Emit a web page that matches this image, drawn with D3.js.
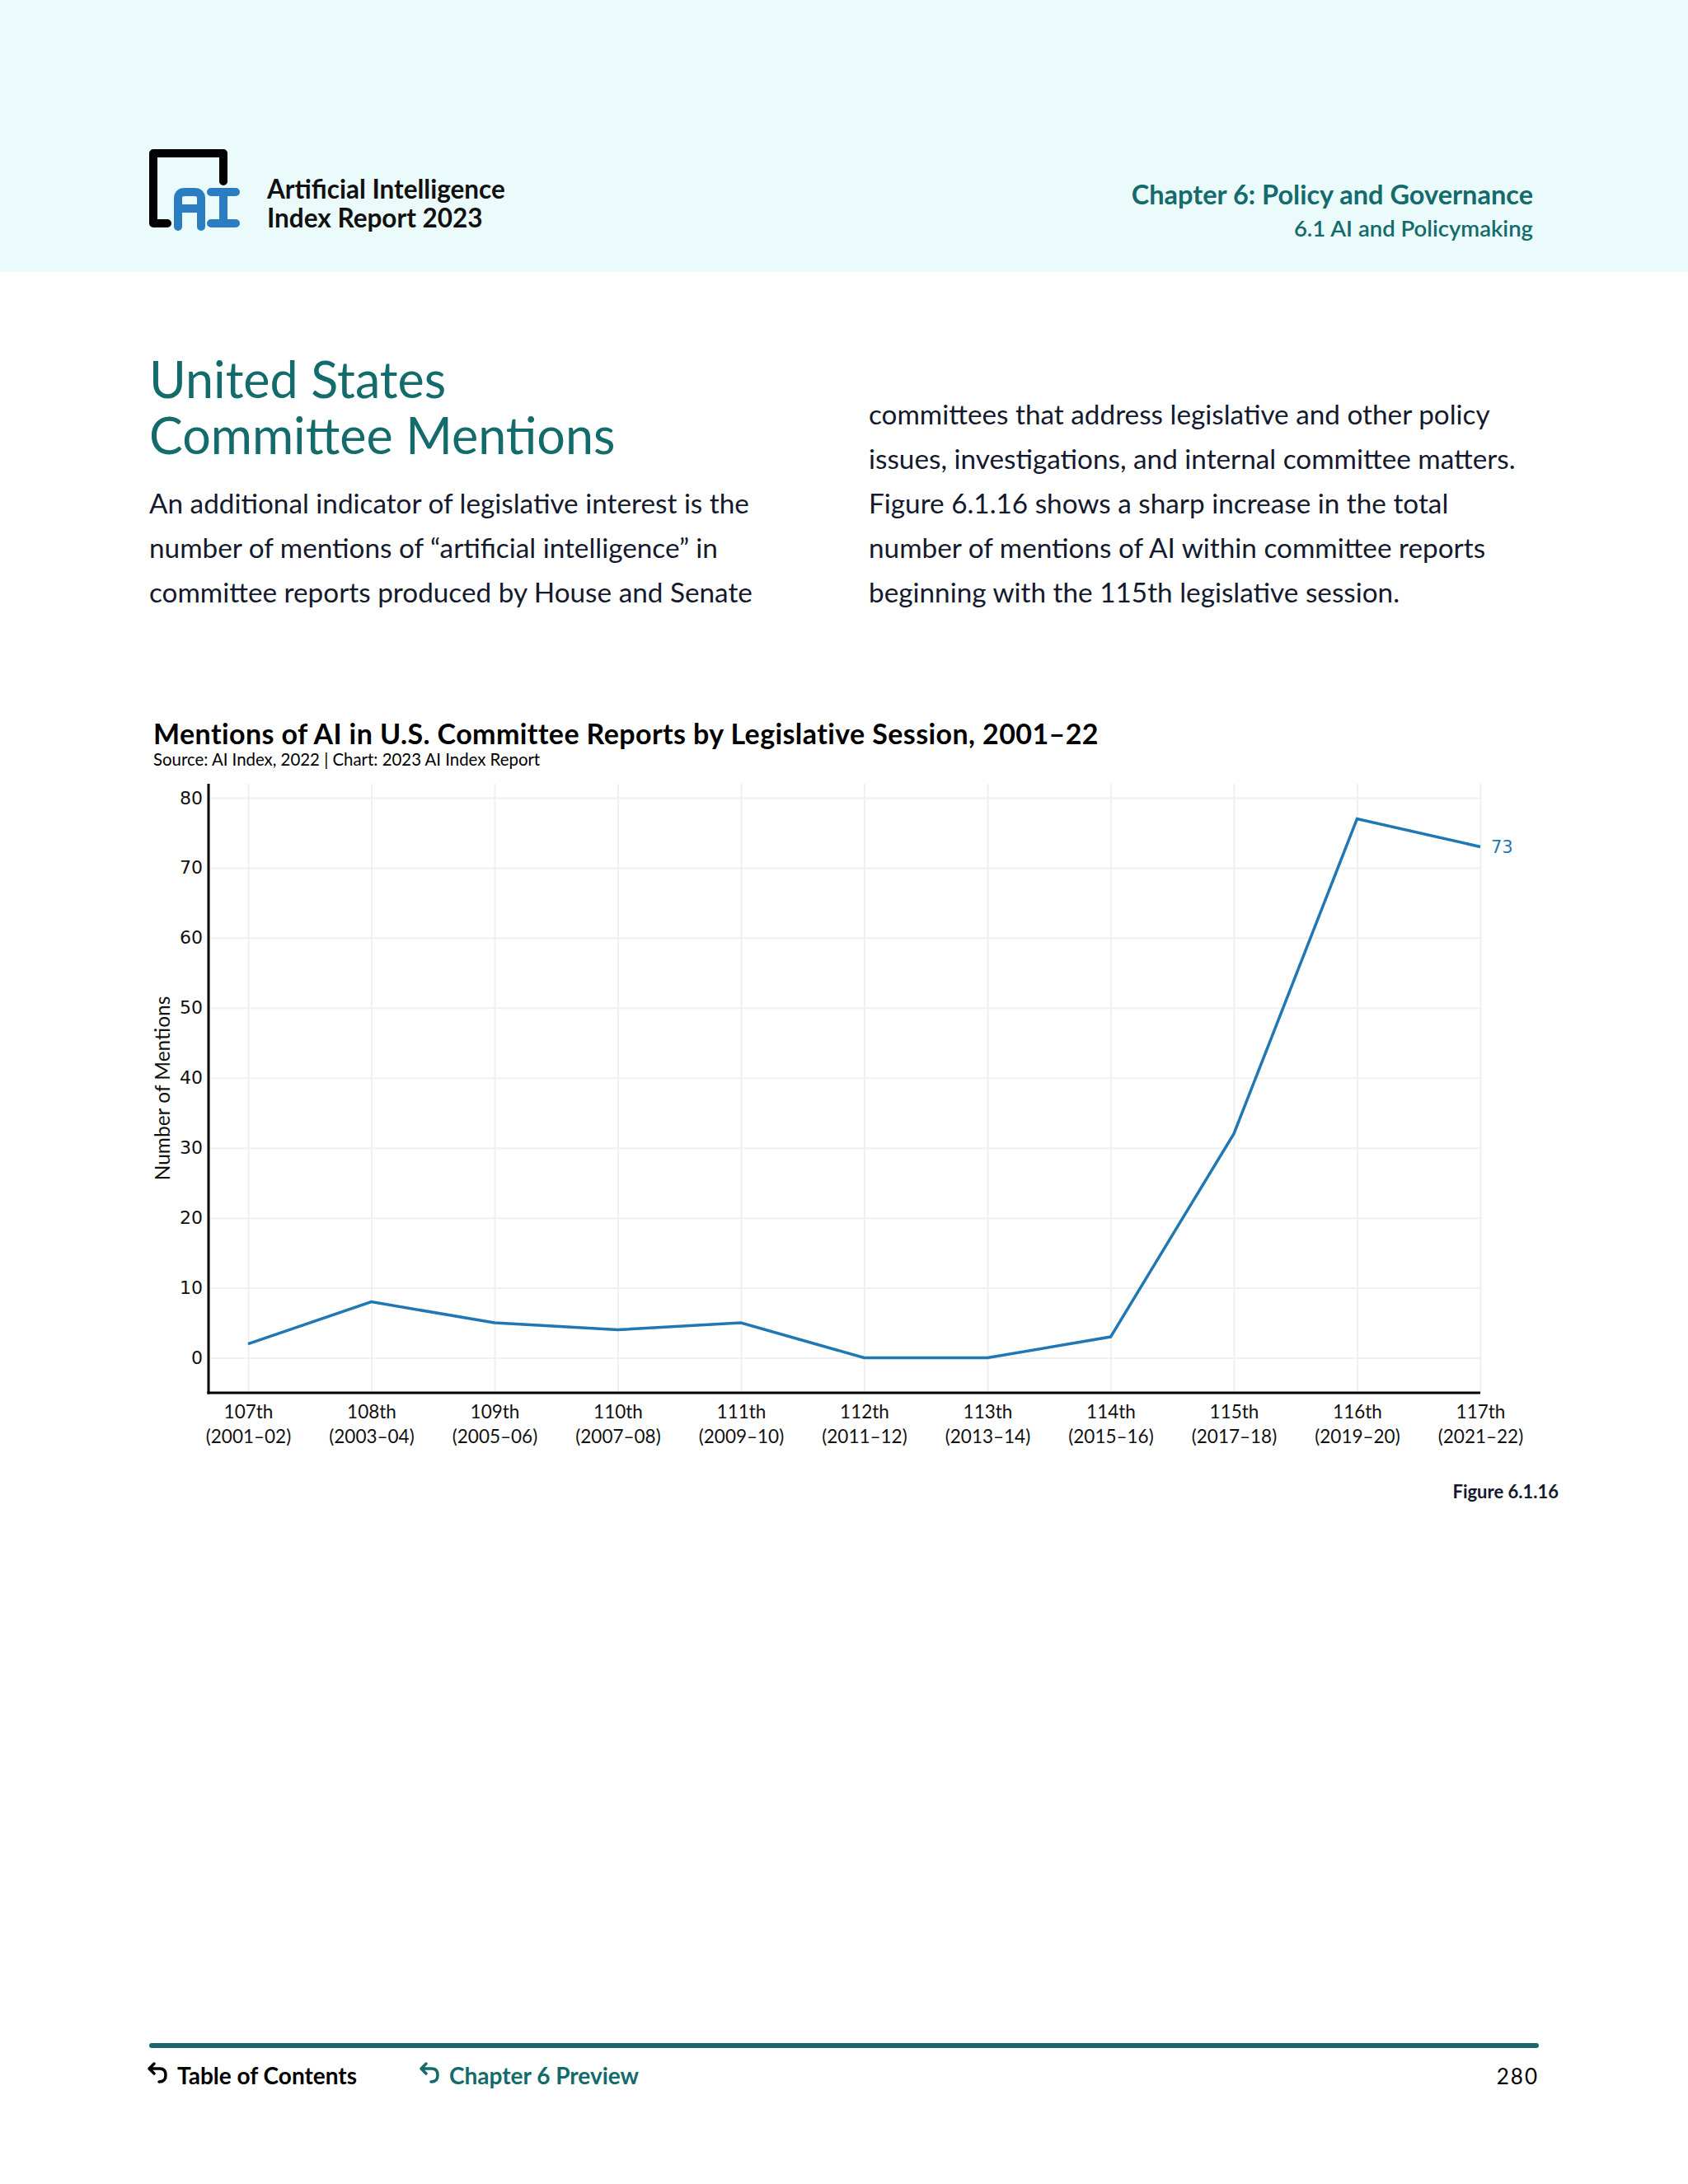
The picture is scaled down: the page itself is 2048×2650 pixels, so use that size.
<!DOCTYPE html>
<html>
<head>
<meta charset="utf-8">
<script src="https://cdn.jsdelivr.net/npm/d3@7"></script>
<style>
  html, body { margin: 0; padding: 0; background: #ffffff; }
  svg { display: block; }
</style>
</head>
<body>
<svg id="page" width="2048" height="2650"></svg>
<script>
// chart data
const sessions = ["107th", "108th", "109th", "110th", "111th", "112th", "113th", "114th", "115th", "116th", "117th"];
const sessionYears = ["(2001–02)", "(2003–04)", "(2005–06)", "(2007–08)", "(2009–10)", "(2011–12)", "(2013–14)", "(2015–16)", "(2017–18)", "(2019–20)", "(2021–22)"];
const mentions = [2, 8, 5, 4, 5, 0, 0, 3, 32, 77, 73];
const yTicks = [0, 10, 20, 30, 40, 50, 60, 70, 80];

// page text
const leftParagraph = [
  "An additional indicator of legislative interest is the",
  "number of mentions of “artificial intelligence” in",
  "committee reports produced by House and Senate"
];
const rightParagraph = [
  "committees that address legislative and other policy",
  "issues, investigations, and internal committee matters.",
  "Figure 6.1.16 shows a sharp increase in the total",
  "number of mentions of AI within committee reports",
  "beginning with the 115th legislative session."
];

const teal = "#136b6b";
const ink = "#141a2e";
const blue = "#1f77b4";
const font = "Lato, 'Noto Sans', sans-serif";

const svg = d3.select("#page");

// header band
svg.append("rect").attr("x", 0).attr("y", 0).attr("width", 2048).attr("height", 330).attr("fill", "#ebfafa");

// logo
const logo = svg.append("g");
logo.append("path")
  .attr("d", "M271,220 L271,186 L186,186 L186,271 L203,271")
  .attr("fill", "none").attr("stroke", "#000").attr("stroke-width", 10)
  .attr("stroke-linecap", "round").attr("stroke-linejoin", "round");
logo.append("path")
  .attr("d", "M216,275 L216,241 Q216,233 224,233 L236,233 Q244,233 244,241 L244,275 M216,253 L244,253")
  .attr("fill", "none").attr("stroke", "#2a7dc1").attr("stroke-width", 10)
  .attr("stroke-linecap", "round").attr("stroke-linejoin", "round");
logo.append("path")
  .attr("d", "M256,233 L286,233 M271,233 L271,271 M256,271 L286,271")
  .attr("fill", "none").attr("stroke", "#2a7dc1").attr("stroke-width", 10)
  .attr("stroke-linecap", "round");

svg.append("text").attr("x", 324).attr("y", 241).text("Artificial Intelligence")
  .attr("font-family", font).attr("font-size", 31.5).attr("font-weight", 700).attr("fill", "#111");
svg.append("text").attr("x", 324).attr("y", 276).text("Index Report 2023")
  .attr("font-family", font).attr("font-size", 31.5).attr("font-weight", 700).attr("fill", "#111");

svg.append("text").attr("x", 1860).attr("y", 248).attr("text-anchor", "end")
  .text("Chapter 6: Policy and Governance")
  .attr("font-family", font).attr("font-size", 32.5).attr("font-weight", 700).attr("fill", teal);
svg.append("text").attr("x", 1860).attr("y", 287).attr("text-anchor", "end")
  .text("6.1 AI and Policymaking")
  .attr("font-family", font).attr("font-size", 27.5).attr("font-weight", 600).attr("fill", teal);

// section heading
svg.append("text").attr("x", 181).attr("y", 483).text("United States")
  .attr("font-family", font).attr("font-size", 61).attr("fill", teal);
svg.append("text").attr("x", 181).attr("y", 551).text("Committee Mentions")
  .attr("font-family", font).attr("font-size", 61).attr("fill", teal);

// body paragraphs
svg.selectAll("text.left-p").data(leftParagraph).join("text")
  .attr("class", "left-p")
  .attr("x", 181).attr("y", (d, i) => 623 + i * 54)
  .attr("font-family", font).attr("font-size", 33.3).attr("fill", ink)
  .text(d => d);
svg.selectAll("text.right-p").data(rightParagraph).join("text")
  .attr("class", "right-p")
  .attr("x", 1054).attr("y", (d, i) => 515 + i * 54)
  .attr("font-family", font).attr("font-size", 33.3).attr("fill", ink)
  .text(d => d);

// chart title
svg.append("text").attr("x", 186).attr("y", 903)
  .text("Mentions of AI in U.S. Committee Reports by Legislative Session, 2001–22")
  .attr("font-family", font).attr("font-size", 34).attr("font-weight", 700)
  .attr("letter-spacing", 0.4).attr("fill", "#000");
svg.append("text").attr("x", 186).attr("y", 929)
  .text("Source: AI Index, 2022 | Chart: 2023 AI Index Report")
  .attr("font-family", font).attr("font-size", 20.4).attr("fill", "#000");

// scales
const plotLeft = 253, plotRight = 1796, plotTop = 951, plotBottom = 1690;
const x = d3.scalePoint().domain(sessions).range([301, 1796]);
const y = d3.scaleLinear().domain([-5, 82]).range([plotBottom, plotTop]);

const chart = svg.append("g");

// y axis with grid
const yAxis = chart.append("g")
  .attr("transform", `translate(${plotLeft},0)`)
  .call(d3.axisLeft(y).tickValues(yTicks).tickSize(-(plotRight - plotLeft)).tickPadding(7));
yAxis.select(".domain").remove();
yAxis.selectAll(".tick line").attr("stroke", "#f0f0f0").attr("stroke-width", 2);
yAxis.selectAll(".tick text")
  .attr("font-family", "'DejaVu Sans', sans-serif").attr("font-size", 22).attr("fill", "#111");

// x axis with grid
const xAxis = chart.append("g")
  .attr("transform", `translate(0,${plotBottom})`)
  .call(d3.axisBottom(x).tickSize(-(plotBottom - plotTop)).tickPadding(14).tickFormat(""));
xAxis.select(".domain").remove();
xAxis.selectAll(".tick line").attr("stroke", "#f0f0f0").attr("stroke-width", 2);
xAxis.selectAll(".tick").each(function(d, i) {
  const t = d3.select(this).append("text")
    .attr("text-anchor", "middle")
    .attr("font-family", font).attr("font-size", 22.5).attr("fill", "#111");
  t.append("tspan").attr("x", 0).attr("y", 31).text(d);
  t.append("tspan").attr("x", 0).attr("y", 61).text(sessionYears[i]);
});

// axis lines
chart.append("line").attr("x1", plotLeft).attr("x2", plotLeft).attr("y1", plotTop).attr("y2", plotBottom + 1.5)
  .attr("stroke", "#000").attr("stroke-width", 3);
chart.append("line").attr("x1", plotLeft - 1.5).attr("x2", plotRight).attr("y1", plotBottom).attr("y2", plotBottom)
  .attr("stroke", "#000").attr("stroke-width", 3);

// y axis title
chart.append("text")
  .attr("transform", `translate(206,${(plotTop + plotBottom) / 2}) rotate(-90)`)
  .attr("text-anchor", "middle")
  .attr("font-family", font).attr("font-size", 24.5).attr("fill", "#111")
  .text("Number of Mentions");

// line
const line = d3.line().x((d, i) => x(sessions[i])).y(d => y(d));
chart.append("path").datum(mentions)
  .attr("d", line).attr("fill", "none").attr("stroke", blue).attr("stroke-width", 3.5)
  .attr("stroke-linejoin", "miter");

// end label
const last = mentions.length - 1;
chart.append("text")
  .attr("x", x(sessions[last]) + 13).attr("y", y(mentions[last]) + 8)
  .attr("font-family", "'DejaVu Sans', sans-serif").attr("font-size", 21).attr("fill", blue)
  .text(mentions[last]);

// figure number
svg.append("text").attr("x", 1891).attr("y", 1818).attr("text-anchor", "end")
  .text("Figure 6.1.16")
  .attr("font-family", font).attr("font-size", 22).attr("font-weight", 700).attr("fill", ink);

// footer
svg.append("line").attr("x1", 184).attr("x2", 1864).attr("y1", 2482).attr("y2", 2482)
  .attr("stroke", "#1d6670").attr("stroke-width", 6).attr("stroke-linecap", "round");

function backArrow(g, x0, y0, color) {
  g.append("path")
    .attr("d", `M${x0 + 4},${y0 - 12} L${x0 - 2},${y0 - 6} L${x0 + 4},${y0} M${x0 - 1},${y0 - 6} L${x0 + 11},${y0 - 6} Q${x0 + 18},${y0 - 6} ${x0 + 18},${y0 + 2} Q${x0 + 18},${y0 + 10} ${x0 + 10},${y0 + 10}`)
    .attr("fill", "none").attr("stroke", color).attr("stroke-width", 3.5)
    .attr("stroke-linecap", "round").attr("stroke-linejoin", "round");
}
backArrow(svg, 183, 2516, "#000");
svg.append("text").attr("x", 215).attr("y", 2529).text("Table of Contents")
  .attr("font-family", font).attr("font-size", 28).attr("font-weight", 700).attr("fill", "#000");
backArrow(svg, 513, 2516, teal);
svg.append("text").attr("x", 545).attr("y", 2529).text("Chapter 6 Preview")
  .attr("font-family", font).attr("font-size", 28).attr("font-weight", 700).attr("fill", teal);
svg.append("text").attr("x", 1867).attr("y", 2529).attr("text-anchor", "end").text("280")
  .attr("font-family", font).attr("font-size", 26).attr("letter-spacing", 2).attr("fill", "#000");
</script>
</body>
</html>
